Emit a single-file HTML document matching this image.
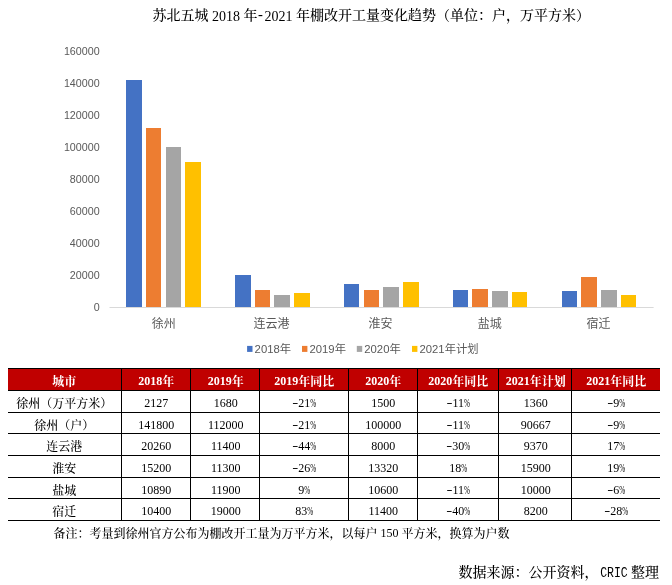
<!DOCTYPE html>
<html lang="zh-CN"><head><meta charset="utf-8"><title>苏北五城棚改开工量变化趋势</title>
<style>
html,body{margin:0;padding:0;background:#fff;}
body{width:672px;height:585px;overflow:hidden;}
svg{display:block;will-change:transform;}
.ct{font-family:"Liberation Sans", "Noto Sans CJK SC", sans-serif;fill:#595959;}
.sg{font-family:"Liberation Serif", "Noto Serif CJK SC", serif;fill:#000;font-weight:500;}
.hd{font-family:"Liberation Serif", "Noto Serif CJK SC", serif;fill:#fff;font-weight:bold;}
.mono{font-family:"Liberation Mono", "Noto Serif CJK SC", monospace;fill:#000;}
</style></head><body>
<svg width="672" height="585" viewBox="0 0 672 585">
<rect x="0" y="0" width="672" height="585" fill="#fff"/>
<text class="sg" x="152.6" y="20.5" font-size="14"><tspan dy="-0.7">苏北五城</tspan><tspan dy="0.7"> 2018 </tspan><tspan dy="-0.7">年</tspan><tspan class="mono" dy="0.2" dx="-1.3" style="font-weight:400">-</tspan><tspan dy="0.5" dx="-0.2">2021 </tspan><tspan dy="-0.7">年棚改开工量变化趋势（单位：户，万平方米）</tspan></text>
<text class="ct" x="99.6" y="311.30" font-size="10.7" text-anchor="end">0</text>
<text class="ct" x="99.6" y="279.27" font-size="10.7" text-anchor="end">20000</text>
<text class="ct" x="99.6" y="247.24" font-size="10.7" text-anchor="end">40000</text>
<text class="ct" x="99.6" y="215.21" font-size="10.7" text-anchor="end">60000</text>
<text class="ct" x="99.6" y="183.18" font-size="10.7" text-anchor="end">80000</text>
<text class="ct" x="99.6" y="151.15" font-size="10.7" text-anchor="end">100000</text>
<text class="ct" x="99.6" y="119.12" font-size="10.7" text-anchor="end">120000</text>
<text class="ct" x="99.6" y="87.09" font-size="10.7" text-anchor="end">140000</text>
<text class="ct" x="99.6" y="55.06" font-size="10.7" text-anchor="end">160000</text>
<rect x="126" y="80" width="16" height="227" fill="#4472C4"/>
<rect x="146" y="128" width="15" height="179" fill="#ED7D31"/>
<rect x="166" y="147" width="15" height="160" fill="#A5A5A5"/>
<rect x="185" y="162" width="16" height="145" fill="#FFC000"/>
<text class="ct" x="163.70" y="327.6" font-size="12" text-anchor="middle">徐州</text>
<rect x="235" y="275" width="16" height="32" fill="#4472C4"/>
<rect x="255" y="290" width="15" height="17" fill="#ED7D31"/>
<rect x="274" y="295" width="16" height="12" fill="#A5A5A5"/>
<rect x="294" y="293" width="16" height="14" fill="#FFC000"/>
<text class="ct" x="271.60" y="327.6" font-size="12" text-anchor="middle">连云港</text>
<rect x="344" y="284" width="15" height="23" fill="#4472C4"/>
<rect x="364" y="290" width="15" height="17" fill="#ED7D31"/>
<rect x="383" y="287" width="16" height="20" fill="#A5A5A5"/>
<rect x="403" y="282" width="16" height="25" fill="#FFC000"/>
<text class="ct" x="380.40" y="327.6" font-size="12" text-anchor="middle">淮安</text>
<rect x="453" y="290" width="15" height="17" fill="#4472C4"/>
<rect x="472" y="289" width="16" height="18" fill="#ED7D31"/>
<rect x="492" y="291" width="16" height="16" fill="#A5A5A5"/>
<rect x="512" y="292" width="15" height="15" fill="#FFC000"/>
<text class="ct" x="489.70" y="327.6" font-size="12" text-anchor="middle">盐城</text>
<rect x="562" y="291" width="15" height="16" fill="#4472C4"/>
<rect x="581" y="277" width="16" height="30" fill="#ED7D31"/>
<rect x="601" y="290" width="16" height="17" fill="#A5A5A5"/>
<rect x="621" y="295" width="15" height="12" fill="#FFC000"/>
<text class="ct" x="598.40" y="327.6" font-size="12" text-anchor="middle">宿迁</text>
<rect x="109.5" y="307" width="544.1" height="1" fill="#D9D9D9"/>
<rect x="247.10" y="345.9" width="5.4" height="6" fill="#4472C4"/>
<text class="ct" x="254.60" y="353.0" font-size="11.3">2018年</text>
<rect x="302.00" y="345.9" width="5.4" height="6" fill="#ED7D31"/>
<text class="ct" x="309.50" y="353.0" font-size="11.3">2019年</text>
<rect x="356.80" y="345.9" width="5.4" height="6" fill="#A5A5A5"/>
<text class="ct" x="364.30" y="353.0" font-size="11.3">2020年</text>
<rect x="412.00" y="345.9" width="5.4" height="6" fill="#FFC000"/>
<text class="ct" x="419.50" y="353.0" font-size="11.3">2021年计划</text>
<rect x="8" y="368" width="652" height="22" fill="#C00000"/>
<rect x="8" y="368" width="652" height="1" fill="#000"/>
<rect x="8" y="390" width="652" height="1" fill="#000"/>
<rect x="8" y="412" width="652" height="1" fill="#000"/>
<rect x="8" y="433" width="652" height="1" fill="#000"/>
<rect x="8" y="455" width="652" height="1" fill="#000"/>
<rect x="8" y="477" width="652" height="1" fill="#000"/>
<rect x="8" y="498" width="652" height="1" fill="#000"/>
<rect x="8" y="520" width="652" height="1" fill="#000"/>
<rect x="121" y="368" width="1" height="153" fill="#000"/>
<rect x="190" y="368" width="1" height="153" fill="#000"/>
<rect x="259" y="368" width="1" height="153" fill="#000"/>
<rect x="348" y="368" width="1" height="153" fill="#000"/>
<rect x="417" y="368" width="1" height="153" fill="#000"/>
<rect x="498" y="368" width="1" height="153" fill="#000"/>
<rect x="571" y="368" width="1" height="153" fill="#000"/>
<text class="hd" x="64.20" y="385.00" font-size="12" text-anchor="middle"><tspan dy="1.00">城市</tspan></text>
<text class="hd" x="156.20" y="385.00" font-size="12" text-anchor="middle">2018<tspan dy="1.00">年</tspan></text>
<text class="hd" x="225.70" y="385.00" font-size="12" text-anchor="middle">2019<tspan dy="1.00">年</tspan></text>
<text class="hd" x="304.20" y="385.00" font-size="12" text-anchor="middle">2019<tspan dy="1.00">年同比</tspan></text>
<text class="hd" x="383.20" y="385.00" font-size="12" text-anchor="middle">2020<tspan dy="1.00">年</tspan></text>
<text class="hd" x="458.20" y="385.00" font-size="12" text-anchor="middle">2020<tspan dy="1.00">年同比</tspan></text>
<text class="hd" x="535.70" y="385.00" font-size="12" text-anchor="middle">2021<tspan dy="1.00">年计划</tspan></text>
<text class="hd" x="616.20" y="385.00" font-size="12" text-anchor="middle">2021<tspan dy="1.00">年同比</tspan></text>
<text class="sg" x="64.20" y="407.00" font-size="12" text-anchor="middle"><tspan dy="1.10">徐州（万平方米）</tspan></text>
<text class="sg" x="156.20" y="407.00" font-size="12" text-anchor="middle">2127</text>
<text class="sg" x="225.70" y="407.00" font-size="12" text-anchor="middle">1680</text>
<text class="sg" x="304.20" y="407.00" font-size="12" text-anchor="middle"><tspan textLength="6" lengthAdjust="spacingAndGlyphs">-</tspan>21<tspan textLength="6" lengthAdjust="spacingAndGlyphs">%</tspan></text>
<text class="sg" x="383.20" y="407.00" font-size="12" text-anchor="middle">1500</text>
<text class="sg" x="458.20" y="407.00" font-size="12" text-anchor="middle"><tspan textLength="6" lengthAdjust="spacingAndGlyphs">-</tspan>11<tspan textLength="6" lengthAdjust="spacingAndGlyphs">%</tspan></text>
<text class="sg" x="535.70" y="407.00" font-size="12" text-anchor="middle">1360</text>
<text class="sg" x="616.20" y="407.00" font-size="12" text-anchor="middle"><tspan textLength="6" lengthAdjust="spacingAndGlyphs">-</tspan>9<tspan textLength="6" lengthAdjust="spacingAndGlyphs">%</tspan></text>
<text class="sg" x="64.20" y="429.00" font-size="12" text-anchor="middle"><tspan dy="1.10">徐州（户）</tspan></text>
<text class="sg" x="156.20" y="429.00" font-size="12" text-anchor="middle">141800</text>
<text class="sg" x="225.70" y="429.00" font-size="12" text-anchor="middle">112000</text>
<text class="sg" x="304.20" y="429.00" font-size="12" text-anchor="middle"><tspan textLength="6" lengthAdjust="spacingAndGlyphs">-</tspan>21<tspan textLength="6" lengthAdjust="spacingAndGlyphs">%</tspan></text>
<text class="sg" x="383.20" y="429.00" font-size="12" text-anchor="middle">100000</text>
<text class="sg" x="458.20" y="429.00" font-size="12" text-anchor="middle"><tspan textLength="6" lengthAdjust="spacingAndGlyphs">-</tspan>11<tspan textLength="6" lengthAdjust="spacingAndGlyphs">%</tspan></text>
<text class="sg" x="535.70" y="429.00" font-size="12" text-anchor="middle">90667</text>
<text class="sg" x="616.20" y="429.00" font-size="12" text-anchor="middle"><tspan textLength="6" lengthAdjust="spacingAndGlyphs">-</tspan>9<tspan textLength="6" lengthAdjust="spacingAndGlyphs">%</tspan></text>
<text class="sg" x="64.20" y="450.00" font-size="12" text-anchor="middle"><tspan dy="1.10">连云港</tspan></text>
<text class="sg" x="156.20" y="450.00" font-size="12" text-anchor="middle">20260</text>
<text class="sg" x="225.70" y="450.00" font-size="12" text-anchor="middle">11400</text>
<text class="sg" x="304.20" y="450.00" font-size="12" text-anchor="middle"><tspan textLength="6" lengthAdjust="spacingAndGlyphs">-</tspan>44<tspan textLength="6" lengthAdjust="spacingAndGlyphs">%</tspan></text>
<text class="sg" x="383.20" y="450.00" font-size="12" text-anchor="middle">8000</text>
<text class="sg" x="458.20" y="450.00" font-size="12" text-anchor="middle"><tspan textLength="6" lengthAdjust="spacingAndGlyphs">-</tspan>30<tspan textLength="6" lengthAdjust="spacingAndGlyphs">%</tspan></text>
<text class="sg" x="535.70" y="450.00" font-size="12" text-anchor="middle">9370</text>
<text class="sg" x="616.20" y="450.00" font-size="12" text-anchor="middle">17<tspan textLength="6" lengthAdjust="spacingAndGlyphs">%</tspan></text>
<text class="sg" x="64.20" y="472.00" font-size="12" text-anchor="middle"><tspan dy="1.10">淮安</tspan></text>
<text class="sg" x="156.20" y="472.00" font-size="12" text-anchor="middle">15200</text>
<text class="sg" x="225.70" y="472.00" font-size="12" text-anchor="middle">11300</text>
<text class="sg" x="304.20" y="472.00" font-size="12" text-anchor="middle"><tspan textLength="6" lengthAdjust="spacingAndGlyphs">-</tspan>26<tspan textLength="6" lengthAdjust="spacingAndGlyphs">%</tspan></text>
<text class="sg" x="383.20" y="472.00" font-size="12" text-anchor="middle">13320</text>
<text class="sg" x="458.20" y="472.00" font-size="12" text-anchor="middle">18<tspan textLength="6" lengthAdjust="spacingAndGlyphs">%</tspan></text>
<text class="sg" x="535.70" y="472.00" font-size="12" text-anchor="middle">15900</text>
<text class="sg" x="616.20" y="472.00" font-size="12" text-anchor="middle">19<tspan textLength="6" lengthAdjust="spacingAndGlyphs">%</tspan></text>
<text class="sg" x="64.20" y="494.00" font-size="12" text-anchor="middle"><tspan dy="1.10">盐城</tspan></text>
<text class="sg" x="156.20" y="494.00" font-size="12" text-anchor="middle">10890</text>
<text class="sg" x="225.70" y="494.00" font-size="12" text-anchor="middle">11900</text>
<text class="sg" x="304.20" y="494.00" font-size="12" text-anchor="middle">9<tspan textLength="6" lengthAdjust="spacingAndGlyphs">%</tspan></text>
<text class="sg" x="383.20" y="494.00" font-size="12" text-anchor="middle">10600</text>
<text class="sg" x="458.20" y="494.00" font-size="12" text-anchor="middle"><tspan textLength="6" lengthAdjust="spacingAndGlyphs">-</tspan>11<tspan textLength="6" lengthAdjust="spacingAndGlyphs">%</tspan></text>
<text class="sg" x="535.70" y="494.00" font-size="12" text-anchor="middle">10000</text>
<text class="sg" x="616.20" y="494.00" font-size="12" text-anchor="middle"><tspan textLength="6" lengthAdjust="spacingAndGlyphs">-</tspan>6<tspan textLength="6" lengthAdjust="spacingAndGlyphs">%</tspan></text>
<text class="sg" x="64.20" y="515.00" font-size="12" text-anchor="middle"><tspan dy="1.10">宿迁</tspan></text>
<text class="sg" x="156.20" y="515.00" font-size="12" text-anchor="middle">10400</text>
<text class="sg" x="225.70" y="515.00" font-size="12" text-anchor="middle">19000</text>
<text class="sg" x="304.20" y="515.00" font-size="12" text-anchor="middle">83<tspan textLength="6" lengthAdjust="spacingAndGlyphs">%</tspan></text>
<text class="sg" x="383.20" y="515.00" font-size="12" text-anchor="middle">11400</text>
<text class="sg" x="458.20" y="515.00" font-size="12" text-anchor="middle"><tspan textLength="6" lengthAdjust="spacingAndGlyphs">-</tspan>40<tspan textLength="6" lengthAdjust="spacingAndGlyphs">%</tspan></text>
<text class="sg" x="535.70" y="515.00" font-size="12" text-anchor="middle">8200</text>
<text class="sg" x="616.20" y="515.00" font-size="12" text-anchor="middle"><tspan textLength="6" lengthAdjust="spacingAndGlyphs">-</tspan>28<tspan textLength="6" lengthAdjust="spacingAndGlyphs">%</tspan></text>
<text class="sg" x="53.5" y="537.2" font-size="12"><tspan dy="0.80">备注：考量到徐州官方公布为棚改开工量为万平方米，以每户</tspan><tspan dy="-0.80"> 150 </tspan><tspan dy="0.80">平方米，换算为户数</tspan></text>
<text class="sg" x="458.6" y="577.2" font-size="14">数据来源：公开资料，</text>
<text class="mono" transform="translate(600.2,576.8) scale(0.82,1)" font-size="14">CRIC</text>
<text class="sg" x="631.0" y="577.2" font-size="14">整理</text>
</svg></body></html>
